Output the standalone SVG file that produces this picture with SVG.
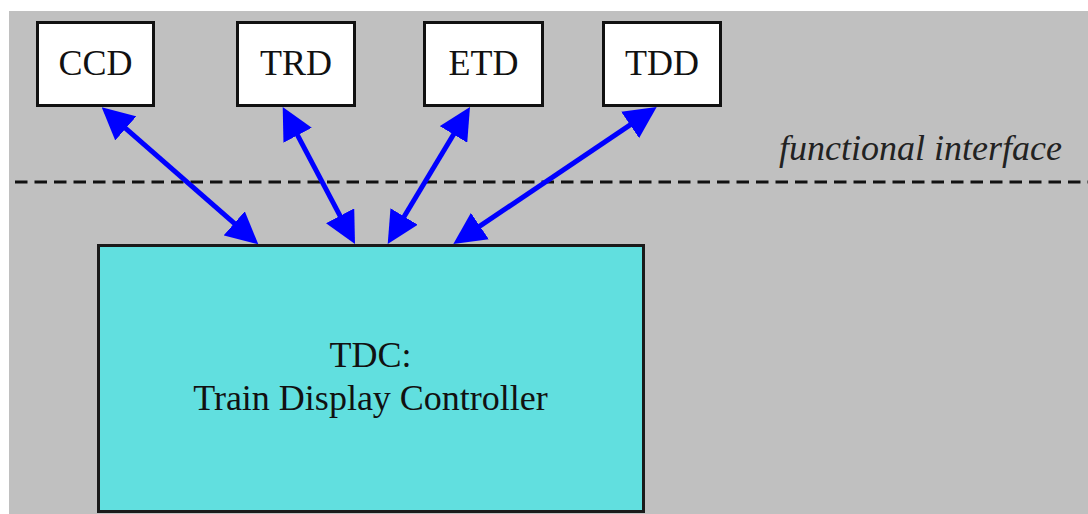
<svg xmlns="http://www.w3.org/2000/svg" width="1088" height="514" viewBox="0 0 1088 514">
<style>
.box{fill:#ffffff;stroke:#111111;stroke-width:3}
.lbl{font-family:"Liberation Serif","Times New Roman",serif;font-size:36px;fill:#111111;text-anchor:middle}
.conn{stroke:#0000ff;stroke-width:5;fill:none;marker-start:url(#ah);marker-end:url(#ah)}
</style>
<defs>
<marker id="ah" markerUnits="userSpaceOnUse" markerWidth="32" markerHeight="32" refX="26" refY="16" orient="auto-start-reverse" viewBox="0 0 32 32">
<path d="M0,0 L32,16 L0,32 z" fill="#0000ff"/>
</marker>
</defs>
<rect x="0" y="0" width="1088" height="514" fill="#ffffff"/>
<rect x="9" y="11" width="1079" height="503" fill="#c0c0c0"/>
<g id="interface">
<line x1="15" y1="182" x2="1088" y2="182" stroke="#111111" stroke-width="3" stroke-dasharray="12.5 7"/>
<text x="1062" y="160" font-family="Liberation Serif, Times New Roman, serif" font-size="36" font-style="italic" fill="#222222" text-anchor="end">functional interface</text>
</g>
<g id="CCD"><rect class="box" x="37.5" y="22.5" width="116" height="83"/><text class="lbl" x="95.5" y="75">CCD</text></g>
<g id="TRD"><rect class="box" x="237.5" y="22.5" width="117" height="83"/><text class="lbl" x="296" y="75">TRD</text></g>
<g id="ETD"><rect class="box" x="424.5" y="22.5" width="118" height="83"/><text class="lbl" x="483.5" y="75">ETD</text></g>
<g id="TDD"><rect class="box" x="603.5" y="22.5" width="117" height="83"/><text class="lbl" x="662" y="75">TDD</text></g>
<g id="TDC"><rect x="98.5" y="245.5" width="545" height="266" fill="#61dfdf" stroke="#1a1a1a" stroke-width="3"/>
<text class="lbl" x="370.5" y="367">TDC:</text>
<text class="lbl" x="370.5" y="410">Train Display Controller</text></g>
<g id="connectors">
<line class="conn" x1="106.2" y1="111.3" x2="253.8" y2="240.4"/>
<line class="conn" x1="285.5" y1="112.3" x2="352.2" y2="238.8"/>
<line class="conn" x1="466.9" y1="112.2" x2="390.8" y2="238.8"/>
<line class="conn" x1="651.7" y1="110.4" x2="458.3" y2="240.6"/>
</g>
</svg>
